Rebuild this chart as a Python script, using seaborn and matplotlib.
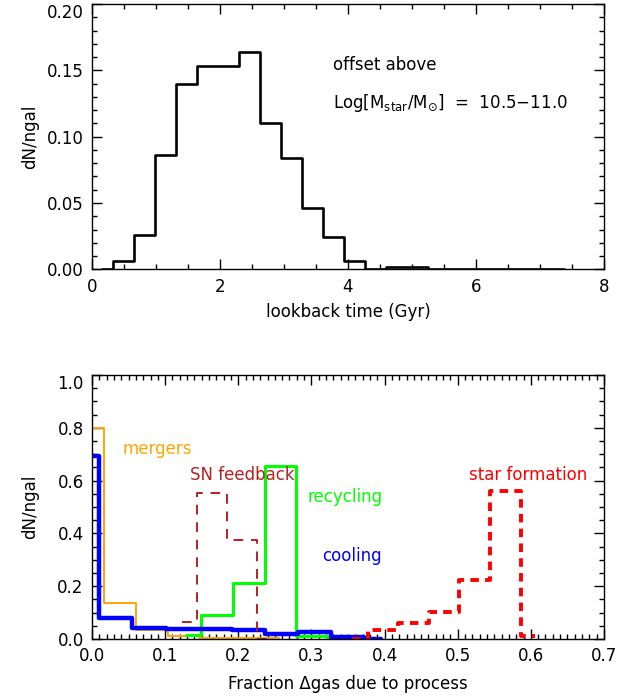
import matplotlib
matplotlib.use("Agg")
import matplotlib.pyplot as plt
from matplotlib.ticker import MultipleLocator, FormatStrFormatter
import seaborn as sns

# top panel: lookback time distribution (bin centres in Gyr, dN/ngal)
lookback_gyr = [0.16, 0.49, 0.82, 1.15, 1.48, 1.80, 2.13, 2.46, 2.79, 3.12, 3.44, 3.77,
                4.10, 4.43, 4.76, 5.08, 5.41, 5.74, 6.07, 6.40, 6.72, 7.05, 7.38]
lookback_frac = [0.0, 0.006, 0.026, 0.086, 0.140, 0.153, 0.153, 0.164, 0.110, 0.084, 0.046, 0.024,
                 0.006, 0.0, 0.002, 0.002, 0.0, 0.0, 0.0, 0.0, 0.0, 0.0, 0.0]

# bottom panel: fraction of gas change due to each process (bin centres, dN/ngal)
mergers_x = [-0.005, 0.038, 0.082, 0.125, 0.168, 0.212, 0.255]
mergers_y = [0.80, 0.137, 0.036, 0.0125, 0.004, 0.003, 0.002]

recycling_x = [0.128, 0.171, 0.215, 0.258, 0.300, 0.343]
recycling_y = [0.017, 0.092, 0.213, 0.655, 0.0125, 0.0]

cooling_x = [-0.013, 0.032, 0.078, 0.123, 0.168, 0.214, 0.259, 0.304, 0.349, 0.395]
cooling_y = [0.693, 0.081, 0.043, 0.038, 0.038, 0.033, 0.019, 0.027, 0.007, 0.0]

sn_x = [0.1225, 0.1635, 0.2045, 0.2455]
sn_y = [0.064, 0.554, 0.375, 0.0]

sf_x = [0.356, 0.398, 0.440, 0.481, 0.523, 0.566, 0.606]
sf_y = [0.0, 0.034, 0.059, 0.101, 0.223, 0.562, 0.012]

labels = ["mergers", "SN feedback", "recycling", "cooling", "star formation"]
label_pos = [(0.042, 0.72), (0.134, 0.62), (0.294, 0.538), (0.314, 0.315), (0.516, 0.62)]
colors = ["orange", "firebrick", "lime", "blue", "red"]

sns.set_style("ticks", {"axes.edgecolor": "black", "xtick.color": "black",
                        "ytick.color": "black", "text.color": "black",
                        "axes.labelcolor": "black"})
plt.rcParams["font.family"] = ["DejaVu Sans"]
plt.rcParams["mathtext.fontset"] = "dejavusans"
plt.rcParams["font.size"] = 12


def style_axes(ax, xmaj, xmin, ymaj, ymin, xfmt, yfmt):
    ax.xaxis.set_major_locator(MultipleLocator(xmaj))
    ax.xaxis.set_minor_locator(MultipleLocator(xmin))
    ax.yaxis.set_major_locator(MultipleLocator(ymaj))
    ax.yaxis.set_minor_locator(MultipleLocator(ymin))
    ax.xaxis.set_major_formatter(FormatStrFormatter(xfmt))
    ax.yaxis.set_major_formatter(FormatStrFormatter(yfmt))
    ax.tick_params(which="both", direction="in", top=True, right=True, width=1, labelsize=12)
    ax.tick_params(which="major", length=7, pad=6)
    ax.tick_params(which="minor", length=3.5)
    for s in ax.spines.values():
        s.set_linewidth(1)


fig = plt.figure(figsize=(6.42, 6.99), dpi=100)
ax1 = fig.add_axes([0.1433, 0.6147, 0.7975, 0.3796])
ax2 = fig.add_axes([0.1433, 0.0858, 0.7975, 0.3777])

# Panel 1: lookback time
sns.lineplot(x=lookback_gyr, y=lookback_frac, ax=ax1, color="black", lw=1.9,
             drawstyle="steps-mid", estimator=None)
ax1.set_xlim(0, 8)
ax1.set_ylim(0, 0.2)
style_axes(ax1, 2, 0.5, 0.05, 0.01, "%d", "%.2f")
ax1.set_xlabel("lookback time (Gyr)")
ax1.set_ylabel("dN/ngal")
ax1.xaxis.set_label_coords(0.5, -0.161)
ax1.xaxis.label.set_verticalalignment("center")
ax1.yaxis.set_label_coords(-0.121, 0.5)
ax1.yaxis.label.set_verticalalignment("center")
ax1.text(3.77, 0.154, "offset above", va="center", fontsize=12)
ax1.text(3.77, 0.1254, r"Log$\left[\mathrm{M_{star}/M_{\odot}}\right]$  =  10.5$-$11.0",
         va="center", fontsize=12)

# Panel 2: processes
sns.lineplot(x=mergers_x, y=mergers_y, ax=ax2, color=colors[0], lw=1.4,
             drawstyle="steps-mid", estimator=None)
sns.lineplot(x=recycling_x, y=recycling_y, ax=ax2, color=colors[2], lw=2.2,
             drawstyle="steps-mid", estimator=None)
sns.lineplot(x=cooling_x, y=cooling_y, ax=ax2, color=colors[3], lw=3.2,
             drawstyle="steps-mid", estimator=None)
sns.lineplot(x=sn_x, y=sn_y, ax=ax2, color=colors[1], lw=1.4,
             drawstyle="steps-mid", estimator=None, linestyle=(0, (5, 4)))
sns.lineplot(x=sf_x, y=sf_y, ax=ax2, color=colors[4], lw=2.8,
             drawstyle="steps-mid", estimator=None, linestyle=(0, (2.2, 1.6)))
ax2.set_xlim(0, 0.7)
ax2.set_ylim(0, 1.0)
style_axes(ax2, 0.1, 0.01, 0.2, 0.05, "%.1f", "%.1f")
ax2.set_xlabel("Fraction \u0394gas due to process")
ax2.set_ylabel("dN/ngal")
ax2.xaxis.set_label_coords(0.5, -0.170)
ax2.xaxis.label.set_verticalalignment("center")
ax2.yaxis.set_label_coords(-0.121, 0.5)
ax2.yaxis.label.set_verticalalignment("center")
for lab, (lx, ly), c in zip(labels, label_pos, colors):
    ax2.text(lx, ly, lab, color=c, va="center", fontsize=12)

# the topmost y label sits just below its tick, as in the original
fig.canvas.draw()
for ax, top in ((ax1, 0.2), (ax2, 1.0)):
    for t in ax.yaxis.get_major_ticks():
        if abs(t.get_loc() - top) < 1e-9:
            t.label1.set_verticalalignment("top")

fig.savefig("out.png", dpi=100)
plt.close(fig)
